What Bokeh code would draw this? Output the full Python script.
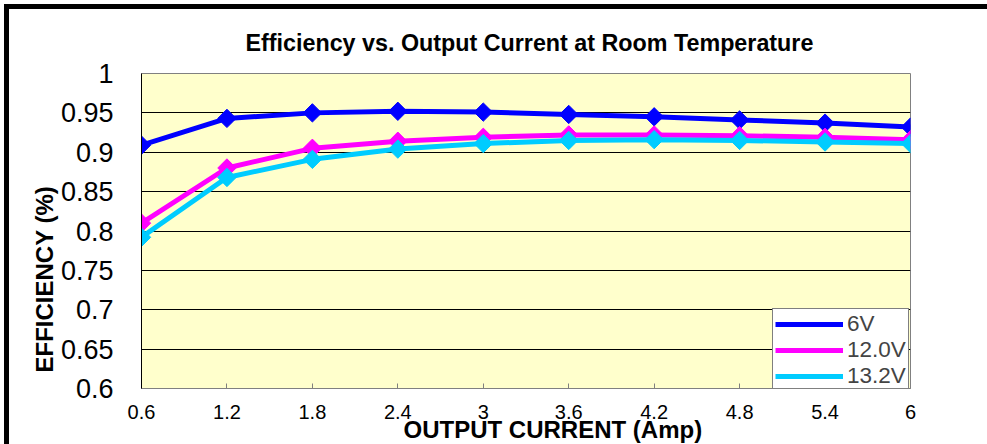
import numpy as np
from bokeh.plotting import figure
from bokeh.models import Range1d, FixedTicker, Legend, LegendItem, Title
from bokeh.embed import file_html
from bokeh.resources import INLINE

# ---- data ----
current = [0.6, 1.2, 1.8, 2.4, 3.0, 3.6, 4.2, 4.8, 5.4, 6.0]
x_tick_labels = ["0.6", "1.2", "1.8", "2.4", "3", "3.6", "4.2", "4.8", "5.4", "6"]
eff_6v = [0.909, 0.943, 0.950, 0.952, 0.951, 0.948, 0.945, 0.941, 0.937, 0.932]
eff_12v = [0.810, 0.880, 0.905, 0.914, 0.919, 0.922, 0.922, 0.921, 0.919, 0.916]
eff_132v = [0.792, 0.868, 0.891, 0.904, 0.911, 0.915, 0.916, 0.915, 0.913, 0.911]
y_ticks = [0.6, 0.65, 0.7, 0.75, 0.8, 0.85, 0.9, 0.95, 1.0]
y_tick_labels = ["0.6", "0.65", "0.7", "0.75", "0.8", "0.85", "0.9", "0.95", "1"]
series_names = ["6V", "12.0V", "13.2V"]
series_colors = ["#0000FF", "#FF00FF", "#00CCFF"]

FONT = "Liberation Sans"
W, H = 978, 435          # canvas becomes (W+5) x (H+5) because of the css borders
CW, CH = W + 5, H + 5
FL, FR, FT, FB = 132, 901, 63, 379  # frame edges in canvas px

p = figure(width=W, height=H,
           x_range=Range1d(current[0], current[-1]),
           y_range=Range1d(y_ticks[0], y_ticks[-1]),
           output_backend="svg", toolbar_location=None,
           min_border_left=FL, min_border_right=CW - FR,
           min_border_top=FT, min_border_bottom=CH - FB,
           background_fill_color="#FFFFCC", border_fill_color="white")
p.styles = {"margin-left": "4px", "margin-top": "4px",
            "border-left": "5px solid black", "border-top": "5px solid black",
            "box-sizing": "content-box"}
p.outline_line_color = "#808080"
p.outline_line_width = 1

# title
p.title.text = "Efficiency vs. Output Current at Room Temperature"
p.title.align = "left"
p.title.offset = 104
p.title.text_font = FONT
p.title.text_font_style = "bold"
p.title.text_font_size = "23.3px"
p.title.text_color = "black"
p.title.standoff = 36

# axes
p.xaxis.ticker = FixedTicker(ticks=current)
p.xaxis.major_label_overrides = {v: s for v, s in zip(current, x_tick_labels)}
p.xaxis.major_label_text_font = FONT
p.xaxis.major_label_text_font_size = "20px"
p.xaxis.major_label_text_color = "black"
p.xaxis.major_label_standoff = 16
p.xaxis.axis_line_color = "#808080"
p.xaxis.major_tick_in = 5
p.xaxis.major_tick_out = 0
p.xaxis.major_tick_line_color = "#808080"
p.xaxis.minor_tick_line_color = None

xtitle = Title(text="OUTPUT CURRENT (Amp)", align="left", offset=262,
               text_font=FONT, text_font_style="bold", text_font_size="24px",
               text_color="black", standoff=-16)
p.add_layout(xtitle, "below")

p.yaxis.ticker = FixedTicker(ticks=y_ticks)
p.yaxis.major_label_overrides = {v: s for v, s in zip(y_ticks, y_tick_labels)}
p.yaxis.major_label_text_font = FONT
p.yaxis.major_label_text_font_size = "27px"
p.yaxis.major_label_text_color = "black"
p.yaxis.major_label_standoff = 28
p.yaxis.axis_line_color = "black"
p.yaxis.major_tick_in = 0
p.yaxis.major_tick_out = 0
p.yaxis.minor_tick_line_color = None

ytitle = Title(text="EFFICIENCY (%)", align="left", offset=16,
               text_font=FONT, text_font_style="bold", text_font_size="24px",
               text_color="black", standoff=0)
p.add_layout(ytitle, "left")

p.xgrid.grid_line_color = None
p.ygrid.grid_line_color = "black"
p.ygrid.grid_line_width = 1

# series
items = []
for ys, name, col in zip([eff_6v, eff_12v, eff_132v], series_names, series_colors):
    ln = p.line(current, ys, line_color=col, line_width=5)
    p.scatter(current, ys, marker="square", angle=np.pi / 4, size=13,
              fill_color=col, line_color=col)
    key = p.scatter(x=[], y=[], marker="diamond", size=13,
                    fill_color=col, line_color=col)
    items.append(LegendItem(label=name, renderers=[ln, key]))

legend = Legend(items=items, location=(631, -4), orientation="vertical",
                label_text_font=FONT, label_text_font_size="22.5px",
                label_height=26, glyph_height=26, glyph_width=68,
                spacing=0, padding=2, margin=0, label_standoff=4,
                border_line_color="black", border_line_width=1,
                background_fill_color="white", background_fill_alpha=1.0)
p.add_layout(legend, "center")

open("out.html", "w").write(file_html(p, INLINE))
